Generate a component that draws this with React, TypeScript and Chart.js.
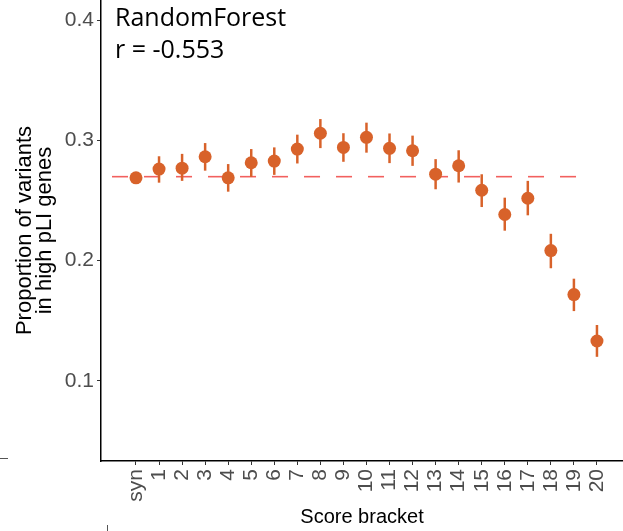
import React, { useEffect, useRef } from "react";
import { Chart, registerables } from "chart.js";

Chart.register(...registerables);

const categories = ["syn", "1", "2", "3", "4", "5", "6", "7", "8", "9", "10", "11", "12", "13", "14", "15", "16", "17", "18", "19", "20"];
const proportion = [0.269, 0.2763, 0.2771, 0.2866, 0.269, 0.2816, 0.283, 0.293, 0.3062, 0.2944, 0.3028, 0.2936, 0.2916, 0.2721, 0.2791, 0.2587, 0.2385, 0.252, 0.2084, 0.1718, 0.1331];
const lower = [0.2685, 0.265, 0.2665, 0.275, 0.2575, 0.2698, 0.2715, 0.281, 0.2938, 0.2824, 0.29, 0.2813, 0.279, 0.2595, 0.2651, 0.2447, 0.225, 0.2378, 0.1937, 0.158, 0.1199];
const upper = [0.2695, 0.287, 0.289, 0.298, 0.2805, 0.293, 0.2944, 0.305, 0.318, 0.3062, 0.315, 0.306, 0.3042, 0.2846, 0.292, 0.272, 0.2525, 0.2665, 0.2224, 0.185, 0.1464];
const yTicks = [0.1, 0.2, 0.3, 0.4];
const baselineValue = 0.27;
const baselineSpan = [-1.04, 19.18];
const annotationLines = ["RandomForest", "r = -0.553"];
const xTitle = "Score bracket";
const yTitle = ["Proportion of variants", "in high pLI genes"];

const POINT_COLOR = "#D8622A";
const DASH_COLOR = "#F2605E";
const TICK_FONT = "'Liberation Sans', Arial, sans-serif";

export default function App() {
  const ref = useRef<HTMLCanvasElement | null>(null);

  useEffect(() => {
    const canvas = ref.current;
    if (!canvas) return;

    const errorBars = {
      id: "errorBars",
      beforeDatasetDraw(chart: any, args: any) {
        if (args.index !== 0) return;
        const { ctx, scales } = chart;
        ctx.save();
        ctx.strokeStyle = POINT_COLOR;
        ctx.lineWidth = 2.5;
        ctx.lineCap = "butt";
        categories.forEach((_, i) => {
          const x = scales.x.getPixelForValue(i);
          ctx.beginPath();
          ctx.moveTo(x, scales.y.getPixelForValue(lower[i]));
          ctx.lineTo(x, scales.y.getPixelForValue(upper[i]));
          ctx.stroke();
        });
        ctx.restore();
      },
    };

    const annotations = {
      id: "annotations",
      afterDraw(chart: any) {
        const { ctx, chartArea } = chart;
        ctx.save();
        ctx.fillStyle = "#000";
        ctx.font = "25px 'Open Sans', sans-serif";
        ctx.textAlign = "left";
        ctx.textBaseline = "alphabetic";
        ctx.fillText(annotationLines[0], chartArea.left + 14, 26);
        ctx.fillText(annotationLines[1], chartArea.left + 14, 58);
        // stray marks from the original figure crop
        ctx.strokeStyle = "#555";
        ctx.lineWidth = 1;
        ctx.beginPath();
        ctx.moveTo(0, 458.5);
        ctx.lineTo(8, 458.5);
        ctx.moveTo(107.5, 525);
        ctx.lineTo(107.5, 531);
        ctx.stroke();
        ctx.restore();
      },
    };

    const chart = new Chart(canvas, {
      type: "scatter",
      data: {
        datasets: [
          {
            label: "proportion",
            data: proportion.map((v, i) => ({ x: i, y: v })),
            backgroundColor: POINT_COLOR,
            borderColor: POINT_COLOR,
            pointRadius: 6.5,
            pointBorderWidth: 0,
            showLine: false,
          },
          {
            type: "line",
            label: "baseline",
            data: baselineSpan.map((x) => ({ x, y: baselineValue })),
            borderColor: DASH_COLOR,
            borderWidth: 1.6,
            borderDash: [16, 16],
            pointRadius: 0,
            fill: false,
          } as any,
        ],
      },
      options: {
        animation: false,
        responsive: false,
        maintainAspectRatio: false,
        layout: { padding: 0, autoPadding: false },
        plugins: {
          legend: { display: false },
          tooltip: { enabled: false },
        },
        scales: {
          x: {
            type: "linear",
            min: -1.518,
            max: 21.13,
            afterBuildTicks: (s: any) => {
              s.ticks = categories.map((_, i) => ({ value: i }));
            },
            afterFit: (s: any) => {
              s.height = 70;
              s.paddingLeft = 0;
              s.paddingRight = 0;
              s.paddingTop = 0;
              s.paddingBottom = 0;
            },
            ticks: {
              callback: (v: any) => categories[Math.round(Number(v))] ?? "",
              minRotation: 90,
              maxRotation: 90,
              autoSkip: false,
              color: "#4D4D4D",
              font: { family: TICK_FONT, size: 21 },
              padding: 4,
            },
            grid: {
              drawOnChartArea: false,
              drawTicks: true,
              tickLength: 4,
              color: "#333",
              lineWidth: 1,
            },
            border: { display: true, color: "#000", width: 1.5 },
            title: {
              display: true,
              text: xTitle,
              color: "#000",
              font: { family: TICK_FONT, size: 20, lineHeight: 1 },
              padding: { top: 0, bottom: 4 },
            },
          },
          y: {
            type: "linear",
            min: 0.0331,
            max: 0.4172,
            afterBuildTicks: (s: any) => {
              s.ticks = yTicks.map((v) => ({ value: v }));
            },
            afterFit: (s: any) => {
              s.width = 101;
              s.paddingLeft = 0;
              s.paddingRight = 0;
              s.paddingTop = 0;
              s.paddingBottom = 0;
            },
            ticks: {
              callback: (v: any) => Number(v).toFixed(1),
              color: "#4D4D4D",
              font: { family: TICK_FONT, size: 21 },
              padding: 3,
            },
            grid: {
              drawOnChartArea: false,
              drawTicks: true,
              tickLength: 4,
              color: "#333",
              lineWidth: 1,
            },
            border: { display: true, color: "#000", width: 1.5 },
            title: {
              display: true,
              text: yTitle,
              color: "#000",
              font: { family: TICK_FONT, size: 22, lineHeight: 0.95 },
              padding: { top: 14, bottom: 0 },
            },
          },
        },
      },
      plugins: [errorBars, annotations],
    });

    return () => chart.destroy();
  }, []);

  return (
    <div style={{ position: "absolute", left: 0, top: 0, width: 623, height: 531, background: "#fff" }}>
      <canvas ref={ref} width={623} height={531} />
    </div>
  );
}
